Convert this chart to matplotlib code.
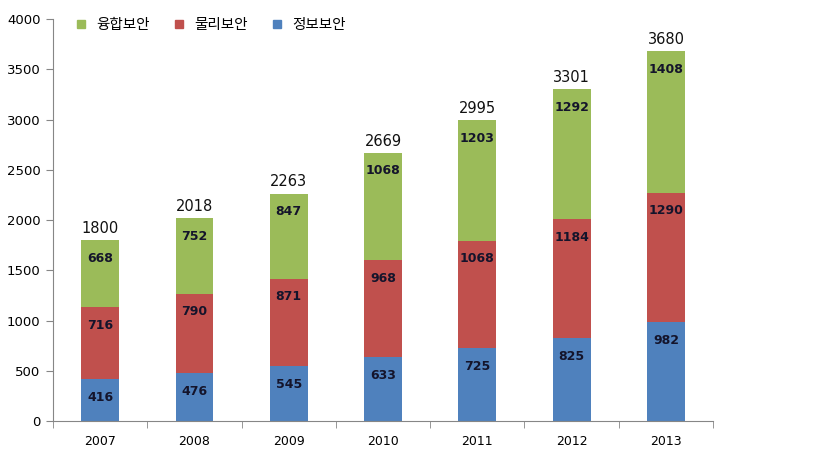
import matplotlib
matplotlib.use("Agg")
import matplotlib.pyplot as plt
from matplotlib.lines import Line2D
import numpy as np

plt.rcParams['font.family'] = ['Noto Sans CJK KR', 'DejaVu Sans']

years = ['2007', '2008', '2009', '2010', '2011', '2012', '2013']
info = [416, 476, 545, 633, 725, 825, 982]          # 정보보안
physical = [716, 790, 871, 968, 1068, 1184, 1290]   # 물리보안
fusion = [668, 752, 847, 1068, 1203, 1292, 1408]    # 융합보안
totals = [1800, 2018, 2263, 2669, 2995, 3301, 3680]

c_blue = '#4F81BD'
c_red = '#C0504D'
c_green = '#9BBB59'

fig = plt.figure(figsize=(8.19, 4.63), dpi=100)
ax = fig.add_axes([0.0647, 0.0907, 0.806, 0.868])

x = np.arange(len(years))
w = 0.4
info_a = np.array(info)
phys_a = np.array(physical)
fus_a = np.array(fusion)

ax.bar(x, info_a, w, color=c_blue)
ax.bar(x, phys_a, w, bottom=info_a, color=c_red)
ax.bar(x, fus_a, w, bottom=info_a + phys_a, color=c_green)

# labels near the top of each segment
lab_kw = dict(textcoords='offset points', ha='center', va='center',
              fontsize=9, fontweight='bold', color='#14142b', family='DejaVu Sans')
for i in range(len(years)):
    ax.annotate(str(info[i]), (x[i], info_a[i]), xytext=(0, -13), **lab_kw)
    ax.annotate(str(physical[i]), (x[i], info_a[i] + phys_a[i]), xytext=(0, -13), **lab_kw)
    ax.annotate(str(fusion[i]), (x[i], info_a[i] + phys_a[i] + fus_a[i]), xytext=(0, -13), **lab_kw)
    ax.annotate(str(totals[i]), (x[i], totals[i]), xytext=(0, 3),
                textcoords='offset points', ha='center', va='bottom',
                fontsize=10.5, color='#111111', family='DejaVu Sans')

ax.set_xlim(-0.5, len(years) - 0.5)
ax.set_ylim(0, 4000)
ax.set_yticks(np.arange(0, 4001, 500))
ax.set_xticks(x)
ax.set_xticklabels(years)
ax.set_xticks(np.arange(-0.5, len(years), 1), minor=True)
ax.tick_params(axis='x', which='major', length=0, pad=10, labelsize=9)
ax.tick_params(axis='x', which='minor', length=5, color='#868686', direction='out')
ax.tick_params(axis='y', length=5, color='#868686', labelsize=9.5, pad=4)
for lab in ax.get_xticklabels() + ax.get_yticklabels():
    lab.set_family('DejaVu Sans')

for s in ['top', 'right']:
    ax.spines[s].set_visible(False)
for s in ['left', 'bottom']:
    ax.spines[s].set_color('#868686')

handles = [Line2D([], [], marker='s', linestyle='', color=c, markersize=6)
           for c in (c_green, c_red, c_blue)]
ax.legend(handles, ['융합보안', '물리보안', '정보보안'], loc='upper left',
          bbox_to_anchor=(0.0, 1.035), ncol=3, frameon=False, fontsize=10.5,
          handletextpad=0.05, columnspacing=1.0)

fig.savefig('out.png', dpi=100)
